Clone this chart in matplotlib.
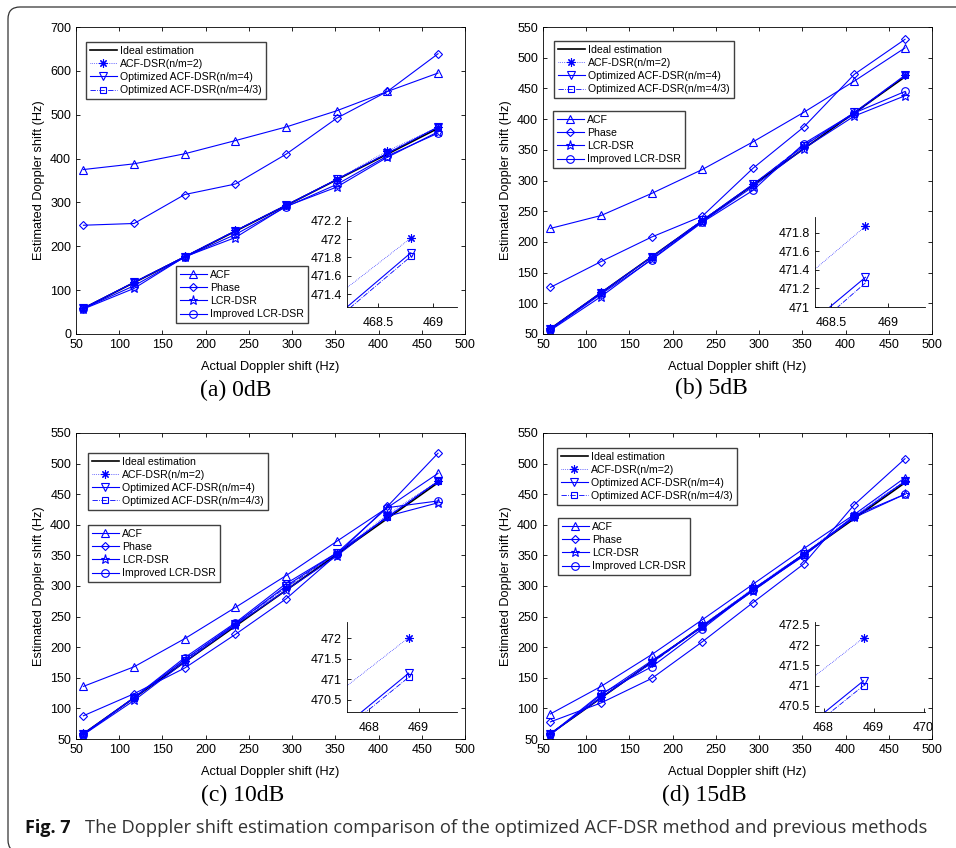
import matplotlib
matplotlib.use("Agg")
import matplotlib.pyplot as plt
from matplotlib.patches import FancyBboxPatch
from matplotlib.transforms import IdentityTransform

plt.rcParams["font.family"] = "Liberation Sans"

# Actual Doppler shift (Hz)
x_hz = [58.6, 117.2, 175.8, 234.4, 293.0, 351.6, 410.2, 468.8]

# (a) 0dB
acf_a = [375, 388, 411, 441, 472, 509, 553, 595]
phase_a = [248, 252, 318, 342, 410, 492, 553, 639]
dsr2_a = [59.5, 118.5, 177, 236, 294.5, 353, 417.5, 472.01]
opt4_a = [59, 118, 176.5, 235.5, 293.5, 352.5, 412.2, 471.85]
opt43_a = [58.8, 117.6, 176.2, 235.2, 293.3, 352.2, 412.5, 471.81]
lcr_a = [57, 104, 176, 220, 291, 335, 403, 461]
ilcr_a = [58, 110, 175, 227, 290, 341, 406, 458]

# (b) 5dB
acf_b = [222, 243, 279, 318, 363, 411, 462, 516]
phase_b = [126, 168, 208, 242, 320, 387, 473, 530]
dsr2_b = [59, 118, 176, 236, 294, 354, 410.4, 471.87]
opt4_b = [58.5, 117.5, 175.5, 235, 294, 356, 410.9, 471.32]
opt43_b = [58.3, 117.3, 175, 234.5, 293, 358, 408, 471.26]
lcr_b = [56, 111, 172, 233, 290, 352, 405, 438]
ilcr_b = [57, 115, 171, 232, 284, 360, 410, 445]

# (c) 10dB
acf_c = [136, 168, 214, 265, 317, 373, 428, 484]
phase_c = [88, 124, 166, 221, 279, 351, 430, 517]
dsr2_c = [59, 117, 178, 237, 296, 353, 416.3, 472.02]
opt4_c = [58.5, 117.5, 180, 238, 300, 354, 412.5, 471.15]
opt43_c = [58.5, 117, 179, 238, 298, 352, 413, 471.05]
lcr_c = [57, 113, 176, 236, 293, 349, 414, 436]
ilcr_c = [57, 118, 183, 240, 304, 354, 428, 439]

# (d) 15dB
acf_d = [91, 136, 188, 245, 303, 361, 417, 477]
phase_d = [78, 109, 149, 209, 273, 336, 433, 508]
dsr2_d = [59, 119, 176, 236, 296, 353, 415.4, 472.18]
opt4_d = [58.5, 118, 175, 235, 295, 352, 412.5, 471.12]
opt43_d = [58.5, 117.5, 174, 234, 294, 351, 412.8, 471.0]
lcr_d = [57, 122, 178, 233, 292, 350, 412, 450]
ilcr_d = [58, 124, 168, 230, 294, 349, 415, 450]

subtitles = ["(a) 0dB", "(b) 5dB", "(c) 10dB", "(d) 15dB"]
labels1 = ["Ideal estimation", "ACF-DSR(n/m=2)", "Optimized ACF-DSR(n/m=4)",
           "Optimized ACF-DSR(n/m=4/3)"]
labels2 = ["ACF", "Phase", "LCR-DSR", "Improved LCR-DSR"]

W, H = 956, 848
fig = plt.figure(figsize=(W / 100, H / 100), dpi=100)

# rounded frame around the figure
frame = FancyBboxPatch((8, -4), 1100, H - 7 + 4, boxstyle="round,pad=0,rounding_size=12",
                       transform=IdentityTransform(), fill=False, edgecolor="#333333",
                       linewidth=0.9)
fig.patches.append(frame)


def px_rect(left, top, right, bottom):
    return [left / W, (H - bottom) / H, (right - left) / W, (bottom - top) / H]


panels = [
    dict(data=(acf_a, phase_a, dsr2_a, opt4_a, opt43_a, lcr_a, ilcr_a),
         rect=px_rect(76, 27, 465, 334), ylim=(0, 700), yticks=range(0, 701, 100),
         inset=px_rect(347, 217, 457, 307), ixlim=(468.22, 469.22), iylim=(471.26, 472.24),
         ixt=[468.5, 469], iyt=[471.4, 471.6, 471.8, 472, 472.2],
         leg1=(0.0257, 0.951), leg2=(0.257, 0.221), sub=(236, 390)),
    dict(data=(acf_b, phase_b, dsr2_b, opt4_b, opt43_b, lcr_b, ilcr_b),
         rect=px_rect(543, 27, 932, 334), ylim=(50, 550), yticks=range(50, 551, 50),
         inset=px_rect(815, 217, 925, 307), ixlim=(468.36, 469.32), iylim=(471.0, 471.97),
         ixt=[468.5, 469], iyt=[471, 471.2, 471.4, 471.6, 471.8],
         leg1=(0.028, 0.954), leg2=(0.0257, 0.726), sub=(711, 388)),
    dict(data=(acf_c, phase_c, dsr2_c, opt4_c, opt43_c, lcr_c, ilcr_c),
         rect=px_rect(76, 433, 465, 739), ylim=(50, 550), yticks=range(50, 551, 50),
         inset=px_rect(347, 622, 457, 712), ixlim=(467.56, 469.77), iylim=(470.2, 472.4),
         ixt=[468, 469], iyt=[470.5, 471, 471.5, 472],
         leg1=(0.031, 0.935), leg2=(0.031, 0.699), sub=(243, 795)),
    dict(data=(acf_d, phase_d, dsr2_d, opt4_d, opt43_d, lcr_d, ilcr_d),
         rect=px_rect(543, 433, 932, 739), ylim=(50, 550), yticks=range(50, 551, 50),
         inset=px_rect(815, 622, 925, 712), ixlim=(467.83, 470.03), iylim=(470.35, 472.57),
         ixt=[468, 469, 470], iyt=[470.5, 471, 471.5, 472, 472.5],
         leg1=(0.036, 0.951), leg2=(0.0386, 0.722), sub=(704, 795)),
]

blue = "#0000ff"


def draw_series(ax, acf, phase, dsr2, opt4, opt43, lcr, ilcr):
    mk = dict(fillstyle="none", markeredgewidth=0.8)
    h = []
    h += ax.plot(x_hz, x_hz, color="black", lw=1.2)
    h += ax.plot(x_hz, dsr2, color=blue, lw=0.5, ls=":", marker=(8, 2, 0), ms=6, **mk)
    h += ax.plot(x_hz, opt4, color=blue, lw=0.8, ls="-", marker="v", ms=5.5, **mk)
    h += ax.plot(x_hz, opt43, color=blue, lw=0.6, ls="-.", marker="s", ms=4.5, **mk)
    g = []
    g += ax.plot(x_hz, acf, color=blue, lw=0.8, marker="^", ms=6, **mk)
    g += ax.plot(x_hz, phase, color=blue, lw=0.8, marker="D", ms=4.3, **mk)
    g += ax.plot(x_hz, lcr, color=blue, lw=0.8, marker="*", ms=6.5, **mk)
    g += ax.plot(x_hz, ilcr, color=blue, lw=0.8, marker="o", ms=5.5, **mk)
    return h, g


leg_kw = dict(loc="upper left", fontsize=7.6, frameon=True, fancybox=False, framealpha=1,
              edgecolor="#404040", handlelength=2.6, handletextpad=0.3, borderpad=0.35,
              labelspacing=0.3, borderaxespad=0)

for i, p in enumerate(panels):
    ax = fig.add_axes(p["rect"])
    h, g = draw_series(ax, *p["data"])
    ax.set_xlim(50, 500)
    ax.set_xticks(range(50, 501, 50))
    ax.set_ylim(*p["ylim"])
    ax.set_yticks(list(p["yticks"]))
    ax.tick_params(direction="in", top=True, right=True, length=3, width=0.6, labelsize=9)
    for s in ax.spines.values():
        s.set_linewidth(0.6)
    ax.set_xlabel("Actual Doppler shift (Hz)", fontsize=9.2, labelpad=7)
    ax.set_ylabel("Estimated Doppler shift (Hz)", fontsize=9.2, labelpad=4)

    l1 = ax.legend(h, labels1, bbox_to_anchor=p["leg1"], **leg_kw)
    l1.get_frame().set_linewidth(1.0)
    ax.add_artist(l1)
    l2 = ax.legend(g, labels2, bbox_to_anchor=p["leg2"], **leg_kw)
    l2.get_frame().set_linewidth(1.0)

    # zoomed inset around the last point
    ins = fig.add_axes(p["inset"])
    ins.patch.set_alpha(0)
    draw_series(ins, *p["data"])
    ins.set_xlim(*p["ixlim"])
    ins.set_ylim(*p["iylim"])
    ins.set_xticks(p["ixt"])
    ins.set_yticks(p["iyt"])
    ins.set_xticklabels(["%g" % v for v in p["ixt"]])
    ins.set_yticklabels(["%g" % v for v in p["iyt"]])
    ins.spines["top"].set_visible(False)
    ins.spines["right"].set_visible(False)
    for s in ins.spines.values():
        s.set_linewidth(0.6)
    ins.tick_params(direction="in", length=3, width=0.6, labelsize=9)
    ins.tick_params(axis="x", pad=7)

    sx, sy = p["sub"]
    fig.text(sx / W, 1 - sy / H, subtitles[i], family="Liberation Serif",
             fontsize=17, ha="center", va="center")

fig.text(25 / W, 1 - 828 / H, "Fig. 7", family="Open Sans", fontweight="bold",
         fontsize=13, va="center", color="#111111")
fig.text(85 / W, 1 - 828 / H,
         "The Doppler shift estimation comparison of the optimized ACF-DSR method and previous methods",
         family="Open Sans", fontsize=13.2, va="center", color="#333333")

fig.savefig("out.png", dpi=100)
